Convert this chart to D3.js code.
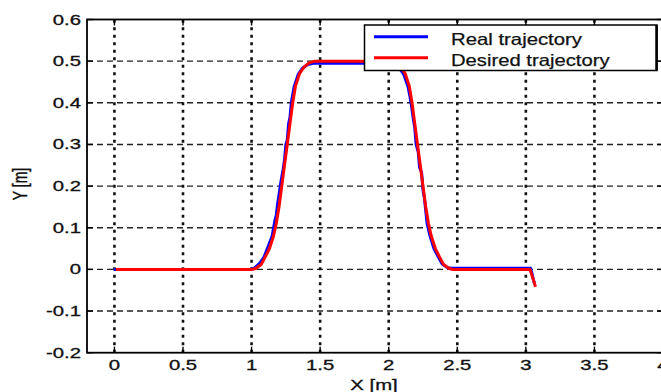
<!DOCTYPE html>
<html><head><meta charset="utf-8">
<script src="https://cdn.jsdelivr.net/npm/d3@7"></script>
<style>body{margin:0;background:#fff}svg{display:block}</style>
</head><body>
<svg id="c" width="661" height="392"></svg>
<script>
const xTicks = [0, 0.5, 1, 1.5, 2, 2.5, 3, 3.5, 4];
const xTickLabels = ["0", "0.5", "1", "1.5", "2", "2.5", "3", "3.5", "4"];
const yTicks = [-0.2, -0.1, 0, 0.1, 0.2, 0.3, 0.4, 0.5, 0.6];
const yTickLabels = ["-0.2", "-0.1", "0", "0.1", "0.2", "0.3", "0.4", "0.5", "0.6"];
const seriesNames = ["Real trajectory", "Desired trajectory"];

// Desired trajectory (red)
const desiredX = [0.01, 1.00, 1.03, 1.07, 1.10, 1.13, 1.16, 1.18, 1.20, 1.22, 1.24, 1.26, 1.28, 1.30, 1.32, 1.35, 1.38, 1.42, 1.46,
  2.01, 2.05, 2.09, 2.12, 2.15, 2.17, 2.19, 2.21, 2.23, 2.25, 2.27, 2.29, 2.31, 2.34, 2.37, 2.40, 2.44, 2.47, 3.03, 3.045, 3.06, 3.07];
const desiredY = [0, 0, 0.002, 0.012, 0.03, 0.05, 0.08, 0.11, 0.15, 0.20, 0.25, 0.30, 0.35, 0.40, 0.44, 0.47, 0.485, 0.496, 0.5,
  0.5, 0.496, 0.485, 0.47, 0.44, 0.40, 0.35, 0.30, 0.25, 0.20, 0.15, 0.11, 0.08, 0.05, 0.03, 0.012, 0.002, 0, 0, -0.015, -0.03, -0.042];

// Real trajectory (blue)
const realX = [-0.005, 0.99, 1.02, 1.06, 1.09, 1.12, 1.15, 1.17, 1.18, 1.19, 1.205, 1.215, 1.23, 1.24, 1.25, 1.26, 1.27, 1.28, 1.29, 1.31, 1.34, 1.37, 1.41, 1.45,
  2.00, 2.04, 2.08, 2.11, 2.14, 2.155, 2.165, 2.18, 2.19, 2.20, 2.215, 2.225, 2.24, 2.25, 2.26, 2.28, 2.30, 2.33, 2.36, 2.39, 2.43, 2.46, 3.033, 3.045, 3.055, 3.063];
const realY = [0, 0, 0.003, 0.015, 0.029, 0.054, 0.08, 0.117, 0.13, 0.158, 0.19, 0.212, 0.24, 0.262, 0.30, 0.31, 0.35, 0.365, 0.40, 0.438, 0.468, 0.483, 0.492, 0.495,
  0.495, 0.492, 0.482, 0.468, 0.44, 0.415, 0.395, 0.36, 0.34, 0.30, 0.282, 0.245, 0.232, 0.19, 0.172, 0.11, 0.082, 0.05, 0.031, 0.013, 0.004, 0.003, 0.003, -0.01, -0.025, -0.034];

const svg = d3.select("#c");
const x = d3.scaleLinear().domain([-0.2, 4]).range([87, 663]);
const y = d3.scaleLinear().domain([-0.2, 0.6]).range([352.7, 19.5]);
const X0 = x(-0.2), X1 = x(4), Y0 = y(-0.2), Y1 = y(0.6);
const font = "'Liberation Sans', Arial, Helvetica, sans-serif";

// grid
const grid = svg.append("g");
grid.selectAll("line.h").data(yTicks.slice(1, -1)).join("line")
  .attr("x1", X0).attr("x2", X1).attr("y1", d => y(d)).attr("y2", d => y(d))
  .attr("stroke", "#222").attr("stroke-width", 1.4).attr("stroke-dasharray", "6,4");
grid.selectAll("line.v").data(xTicks.slice(0, -1)).join("line")
  .attr("x1", d => x(d)).attr("x2", d => x(d)).attr("y1", Y0).attr("y2", Y1)
  .attr("stroke", "#111").attr("stroke-width", 2.6).attr("stroke-dasharray", "3,4.5");

// ticks (inward, all sides)
const tk = svg.append("g").attr("stroke", "#000").attr("stroke-width", 1.4);
xTicks.forEach(t => {
  tk.append("line").attr("x1", x(t)).attr("x2", x(t)).attr("y1", Y0).attr("y2", Y0 - 6);
  tk.append("line").attr("x1", x(t)).attr("x2", x(t)).attr("y1", Y1).attr("y2", Y1 + 6);
});
yTicks.forEach(t => {
  tk.append("line").attr("x1", X0).attr("x2", X0 + 6).attr("y1", y(t)).attr("y2", y(t));
  tk.append("line").attr("x1", X1).attr("x2", X1 - 6).attr("y1", y(t)).attr("y2", y(t));
});

// lines
const line = d3.line().x(d => x(d[0])).y(d => y(d[1]));
const realData = realX.map((v, i) => [v, realY[i]]);
const desData = desiredX.map((v, i) => [v, desiredY[i]]);
svg.append("path").attr("d", line(realData)).attr("fill", "none").attr("stroke", "#0000ff").attr("stroke-width", 3);
svg.append("path").attr("d", line(desData)).attr("fill", "none").attr("stroke", "#ff0000").attr("stroke-width", 3);

// axes box
svg.append("rect").attr("x", X0).attr("y", Y1).attr("width", X1 - X0).attr("height", Y0 - Y1)
  .attr("fill", "none").attr("stroke", "#000").attr("stroke-width", 1.8);

// tick labels (horizontally stretched)
const sx = 1.45;
function stxt(sel) {
  return sel.attr("font-family", font).attr("font-size", 14).attr("fill", "#111")
    .attr("stroke", "#111").attr("stroke-width", 0.3);
}
xTicks.forEach((t, i) => {
  stxt(svg.append("g").attr("transform", `translate(${x(t)},370) scale(${sx},1)`)
    .append("text").attr("text-anchor", "middle")).text(xTickLabels[i]);
});
yTicks.forEach((t, i) => {
  stxt(svg.append("g").attr("transform", `translate(81,${y(t) + 5}) scale(${sx},1)`)
    .append("text").attr("text-anchor", "end")).text(yTickLabels[i]);
});

// axis labels
stxt(svg.append("g").attr("transform", `translate(374,390) scale(${sx},1)`)
  .append("text").attr("text-anchor", "middle")).text("X [m]");
stxt(svg.append("g").attr("transform", `translate(26.5,184) scale(${sx},1) rotate(-90)`)
  .append("text").attr("text-anchor", "middle")).text("Y [m]");

// legend
const lg = svg.append("g");
lg.append("rect").attr("x", 364.5).attr("y", 25).attr("width", 292.5).attr("height", 45.5)
  .attr("fill", "#fff").attr("stroke", "#000").attr("stroke-width", 1.5);
lg.append("line").attr("x1", 656.5).attr("x2", 656.5).attr("y1", 25).attr("y2", 70.5).attr("stroke", "#000").attr("stroke-width", 2.5);
const legColors = ["#0000ff", "#ff0000"];
const legY = [36.7, 57.7];
const legW = [131, 158.6];
seriesNames.forEach((n, i) => {
  lg.append("line").attr("x1", 374).attr("x2", 428).attr("y1", legY[i]).attr("y2", legY[i])
    .attr("stroke", legColors[i]).attr("stroke-width", 3);
  lg.append("text").attr("x", 451).attr("y", legY[i] + 7.8).attr("font-family", font).attr("font-size", 16.5)
    .attr("fill", "#111").attr("stroke", "#111").attr("stroke-width", 0.25)
    .attr("textLength", legW[i]).attr("lengthAdjust", "spacingAndGlyphs").text(n);
});
</script>
</body></html>
